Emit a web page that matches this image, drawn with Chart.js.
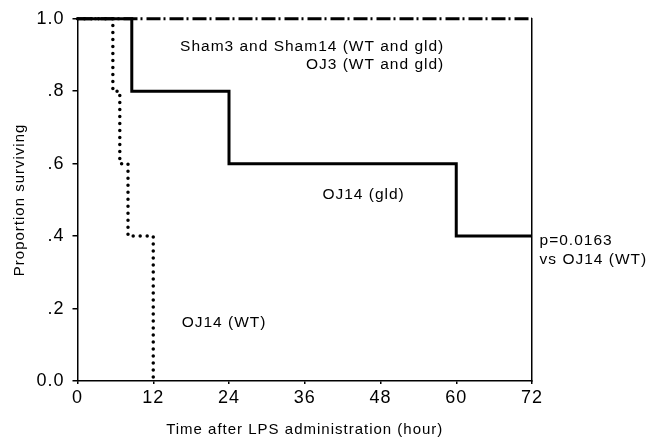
<!DOCTYPE html>
<html>
<head>
<meta charset="utf-8">
<script src="https://cdn.jsdelivr.net/npm/chart.js@4"></script>
<style>
  html, body { margin: 0; padding: 0; background: #fff; }
  #wrap { width: 666px; height: 444px; }
</style>
</head>
<body>
<div id="wrap"><canvas id="survival-chart" width="666" height="444"></canvas></div>
<script>
"use strict";

// Survival after LPS: hours vs proportion surviving (step curves)
var shamTimes = [0, 72];
var shamSurv = [1.0, 1.0];
var gldTimes = [0, 8.6, 24, 60, 72];
var gldSurv = [1.0, 0.8, 0.6, 0.4, 0.4];
var wtTimes = [0, 5.6, 6.7, 8, 12];
var wtSurv = [1.0, 0.8, 0.6, 0.4, 0.0];

var xTickValues = [0, 12, 24, 36, 48, 60, 72];
var yTickValues = [0, 0.2, 0.4, 0.6, 0.8, 1.0];
var yTickLabels = ['0.0', '.2', '.4', '.6', '.8', '1.0'];

// text placed inside the plot, anchored in data units
var notes = [
  { text: 'Sham3 and Sham14 (WT and gld)', x: 58.1, y: 0.924, align: 'right' },
  { text: 'OJ3 (WT and gld)', x: 58.1, y: 0.874, align: 'right' },
  { text: 'OJ14 (gld)', x: 38.8, y: 0.514, align: 'left' },
  { text: 'p=0.0163', x: 73.2, y: 0.388, align: 'left' },
  { text: 'vs OJ14 (WT)', x: 73.2, y: 0.336, align: 'left' },
  { text: 'OJ14 (WT)', x: 16.5, y: 0.16, align: 'left' }
];

var FONT = '"Liberation Sans", Arial, sans-serif';
Chart.defaults.font.family = FONT;
Chart.defaults.color = '#000';

function toPoints(xs, ys) {
  return xs.map(function(x, i) { return { x: x, y: ys[i] }; });
}

// wide letter spacing for the axis text
var spacingPlugin = {
  id: 'spacing',
  beforeDraw: function(chart) { chart.ctx.letterSpacing = '1px'; },
  afterDraw: function(chart) { chart.ctx.letterSpacing = '0px'; }
};

var notesPlugin = {
  id: 'notes',
  afterDatasetsDraw: function(chart) {
    var c = chart.ctx;
    var sx = chart.scales.x, sy = chart.scales.y;
    c.save();
    c.font = '15.5px ' + FONT;
    c.letterSpacing = '1px';
    c.fillStyle = '#000';
    c.textBaseline = 'middle';
    notes.forEach(function(n) {
      c.textAlign = n.align;
      c.fillText(n.text, sx.getPixelForValue(n.x), sy.getPixelForValue(n.y));
    });
    c.restore();
  }
};

var ctx = document.getElementById('survival-chart').getContext('2d');
var chart = new Chart(ctx, {
  type: 'line',
  data: {
    datasets: [{
      label: 'OJ14 (WT)',
      data: toPoints(wtTimes, wtSurv),
      borderColor: '#000',
      borderWidth: 3.5,
      borderDash: [0, 7],
      borderCapStyle: 'round',
      stepped: true,
      pointRadius: 0,
      fill: false,
      clip: false
    }, {
      label: 'OJ14 (gld)',
      data: toPoints(gldTimes, gldSurv),
      borderColor: '#000',
      borderWidth: 3,
      borderJoinStyle: 'miter',
      stepped: true,
      pointRadius: 0,
      fill: false,
      clip: false
    }, {
      label: 'Sham3/Sham14/OJ3',
      data: toPoints(shamTimes, shamSurv),
      borderColor: '#000',
      borderWidth: 3,
      borderDash: [14, 3, 2, 4],
      stepped: true,
      pointRadius: 0,
      fill: false,
      clip: false
    }]
  },
  options: {
    responsive: false,
    animation: false,
    events: [],
    layout: { padding: { left: 0, right: 134, top: 17.5, bottom: 0 } },
    plugins: {
      legend: { display: false },
      tooltip: { enabled: false }
    },
    scales: {
      x: {
        type: 'linear',
        position: 'bottom',
        min: 0,
        max: 72,
        afterBuildTicks: function(axis) {
          axis.ticks = xTickValues.map(function(v) { return { value: v }; });
        },
        afterFit: function(axis) { axis.height = 63; },
        grid: { drawOnChartArea: false, tickLength: 3, color: '#000', lineWidth: 1.5 },
        border: { color: '#000', width: 1.5 },
        ticks: {
          font: { size: 18 },
          color: '#000',
          padding: 3,
          maxRotation: 0,
          autoSkip: false
        },
        title: {
          display: true,
          text: 'Time after LPS administration (hour)',
          font: { size: 15 },
          color: '#000',
          padding: { top: 0, bottom: 5 }
        }
      },
      y: {
        type: 'linear',
        position: 'left',
        min: 0,
        max: 1,
        afterBuildTicks: function(axis) {
          axis.ticks = yTickValues.map(function(v) { return { value: v }; });
        },
        afterFit: function(axis) { axis.width = 77.5; },
        grid: { drawOnChartArea: false, tickLength: 5, color: '#000', lineWidth: 1.5 },
        border: { color: '#000', width: 1.5 },
        ticks: {
          font: { size: 18 },
          color: '#000',
          padding: 8,
          callback: function(value) {
            var i = yTickValues.indexOf(value);
            return i >= 0 ? yTickLabels[i] : '';
          }
        },
        title: {
          display: true,
          text: 'Proportion surviving',
          font: { size: 15 },
          color: '#000',
          padding: { top: 11, bottom: 0 }
        }
      },
      y2: {
        type: 'linear',
        position: 'right',
        min: 0,
        max: 1,
        afterFit: function(axis) { axis.width = 0; },
        ticks: { display: false },
        grid: { display: false },
        border: { display: true, color: '#000', width: 1.5 }
      }
    }
  },
  plugins: [spacingPlugin, notesPlugin]
});
</script>
</body>
</html>
